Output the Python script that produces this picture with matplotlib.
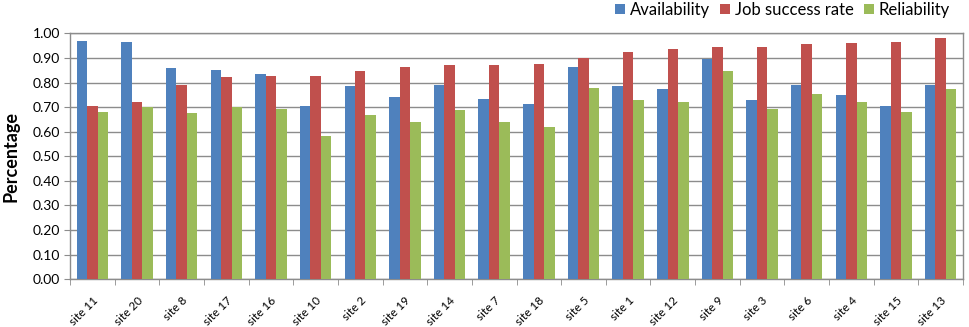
import matplotlib
matplotlib.use("Agg")
import matplotlib.pyplot as plt
import numpy as np

# data
sites = ["site 11", "site 20", "site 8", "site 17", "site 16", "site 10", "site 2",
         "site 19", "site 14", "site 7", "site 18", "site 5", "site 1", "site 12",
         "site 9", "site 3", "site 6", "site 4", "site 15", "site 13"]
availability = [0.969, 0.965, 0.860, 0.851, 0.833, 0.706, 0.786, 0.742, 0.790, 0.734,
                0.711, 0.864, 0.786, 0.772, 0.894, 0.729, 0.790, 0.749, 0.706, 0.790]
job_success = [0.706, 0.720, 0.790, 0.824, 0.828, 0.828, 0.847, 0.864, 0.871, 0.871,
               0.875, 0.898, 0.925, 0.936, 0.946, 0.946, 0.955, 0.959, 0.964, 0.980]
reliability = [0.681, 0.699, 0.677, 0.702, 0.692, 0.584, 0.667, 0.641, 0.688, 0.641,
               0.620, 0.776, 0.729, 0.720, 0.848, 0.694, 0.753, 0.720, 0.681, 0.775]
series_names = ["Availability", "Job success rate", "Reliability"]
yticks = [0.0, 0.1, 0.2, 0.3, 0.4, 0.5, 0.6, 0.7, 0.8, 0.9, 1.0]

colors = ["#4F81BD", "#C0504D", "#9BBB59"]
plt.rcParams['font.family'] = ['Lato', 'DejaVu Sans']

fig = plt.figure(figsize=(9.7, 3.27), dpi=100)
ax = fig.add_axes([0.0722, 0.146, 0.9206, 0.752])

x = np.arange(len(sites))
w = 0.235
for i, (vals, name) in enumerate(zip([availability, job_success, reliability], series_names)):
    ax.bar(x + (i - 1) * w, vals, width=w, color=colors[i], label=name, zorder=3)

ax.set_xlim(-0.5, len(sites) - 0.5)
ax.set_ylim(0, 1.0)
ax.set_yticks(yticks)
ax.set_yticklabels(["%.2f" % v for v in yticks], fontsize=10)
ax.yaxis.grid(True, color="#8c8c8c", linewidth=1.0, zorder=0)

ax.set_xticks(x)
ax.set_xticklabels(sites, rotation=45, ha="right", rotation_mode="anchor", fontsize=8.5)
ax.tick_params(axis="x", length=0, pad=11)
ax.set_xticks(np.arange(-0.5, len(sites)), minor=True)
ax.tick_params(axis="x", which="minor", length=4, color="#8c8c8c", direction="out")
ax.tick_params(axis="y", length=4, color="#8c8c8c", direction="out", pad=3)

for s in ax.spines.values():
    s.set_color("#8c8c8c")
    s.set_linewidth(1.0)

ax.set_ylabel("Percentage", fontsize=13, fontweight="bold", labelpad=10)

fig.legend(loc="upper right", bbox_to_anchor=(0.995, 1.04), ncol=3, frameon=False,
           handlelength=0.6, handleheight=0.6, handletextpad=0.3, columnspacing=0.6,
           fontsize=12)

plt.savefig("out.png", dpi=100)
